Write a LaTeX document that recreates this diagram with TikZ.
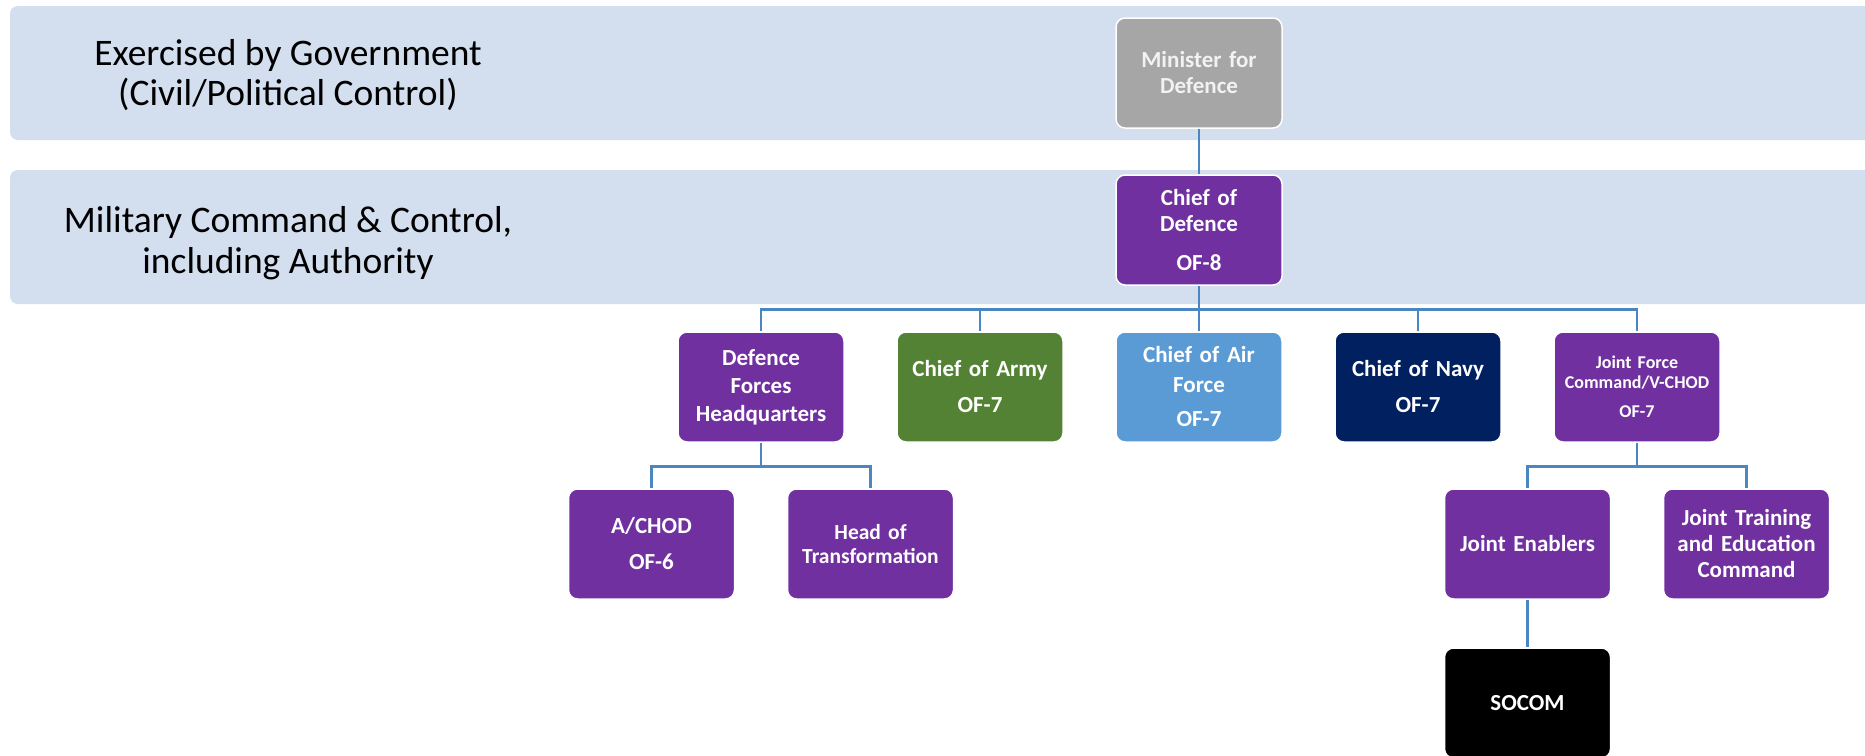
\documentclass[tikz,border=0pt]{standalone}
\usepackage{fontspec}
\setmainfont{Carlito}
\usetikzlibrary{positioning}
\definecolor{bandblue}{HTML}{D3DEEF}
\definecolor{linkblue}{HTML}{4A87C2}
\definecolor{cpurple}{HTML}{7030A0}
\definecolor{cgreen}{HTML}{548235}
\definecolor{cair}{HTML}{5B9BD5}
\definecolor{cnavy}{HTML}{002060}
\definecolor{cgrey}{HTML}{A6A6A6}

\begin{document}
\begin{tikzpicture}[x=1pt, y=-1pt, node distance=45.5pt and 51.5pt,
  unit/.style={fill=cpurple, draw=white, line width=1.5pt, rounded corners=9pt,
    minimum width=166pt, minimum height=110pt, text width=158pt, inner sep=0pt,
    align=center, text=white, font=\fontsize{23}{26}\selectfont\bfseries},
  small/.style={font=\fontsize{21.5}{24}\selectfont\bfseries},
  link/.style={draw=linkblue, line width=2.8pt},
  bandtext/.style={align=center, font=\fontsize{37.5}{40.5}\selectfont}]
  \useasboundingbox (0,0) rectangle (1865,755);

  % bands
  \fill[bandblue, rounded corners=8pt] (10,6) rectangle (1890,140);
  \fill[bandblue, rounded corners=8pt] (10,170) rectangle (1890,304);
  \node[bandtext] (govt) at (288,75) {Exercised by Government\\(Civil/Political Control)};
  \node[bandtext] (mil) at (288,243) {Military Command \& Control,\\including Authority};

  % boxes
  \node[unit, fill=cgrey, text=white!95!black] (minister) at (1199,73) {Minister for\\Defence};
  \node[unit, below=of minister] (cod) {Chief of\\Defence\\[13pt]OF-8};
  \node[unit, fill=cair, below=of cod] (air) {Chief of Air\\[4pt]Force\\[8pt]OF-7};
  \node[unit, fill=cgreen, left=of air] (army) {Chief of Army\\[10pt]OF-7};
  \node[unit, left=of army, font=\fontsize{23}{28}\selectfont\bfseries] (dfhq) {Defence\\Forces\\Headquarters};
  \node[unit, fill=cnavy, right=of air] (navy) {Chief of Navy\\[10pt]OF-7};
  \node[unit, right=of navy, font=\fontsize{18}{20}\selectfont\bfseries] (jfc) {Joint Force\\Command/V-CHOD\\[9pt]OF-7};
  \node[unit, below=of dfhq, xshift=-109.5pt] (achod) {A/CHOD\\[10pt]OF-6};
  \node[unit, small, below=of dfhq, xshift=109.5pt] (hot) {Head of\\Transformation};
  \node[unit, below=of jfc, xshift=-109.5pt] (je) {Joint Enablers};
  \node[unit, below=of jfc, xshift=109.5pt] (jtec) {Joint Training\\and Education\\Command};
  \node[unit, fill=black, below=47.5pt of je] (socom) {SOCOM};

  % connectors
  \draw[link] (minister) -- (cod);
  \draw[link] (cod.south) -- ++(0,24) coordinate (bus);
  \draw[link] (dfhq.north) |- (bus) -| (jfc.north);
  \foreach \n in {army,air,navy}
    \draw[link] (\n.north) -- (\n.north |- bus);
  \draw[link] (dfhq.south) -- ++(0,24) coordinate (hqbus);
  \draw[link] (achod.north) |- (hqbus) -| (hot.north);
  \draw[link] (jfc.south) -- ++(0,24) coordinate (jfbus);
  \draw[link] (je.north) |- (jfbus) -| (jtec.north);
  \draw[link] (je) -- (socom);
\end{tikzpicture}
\end{document}
